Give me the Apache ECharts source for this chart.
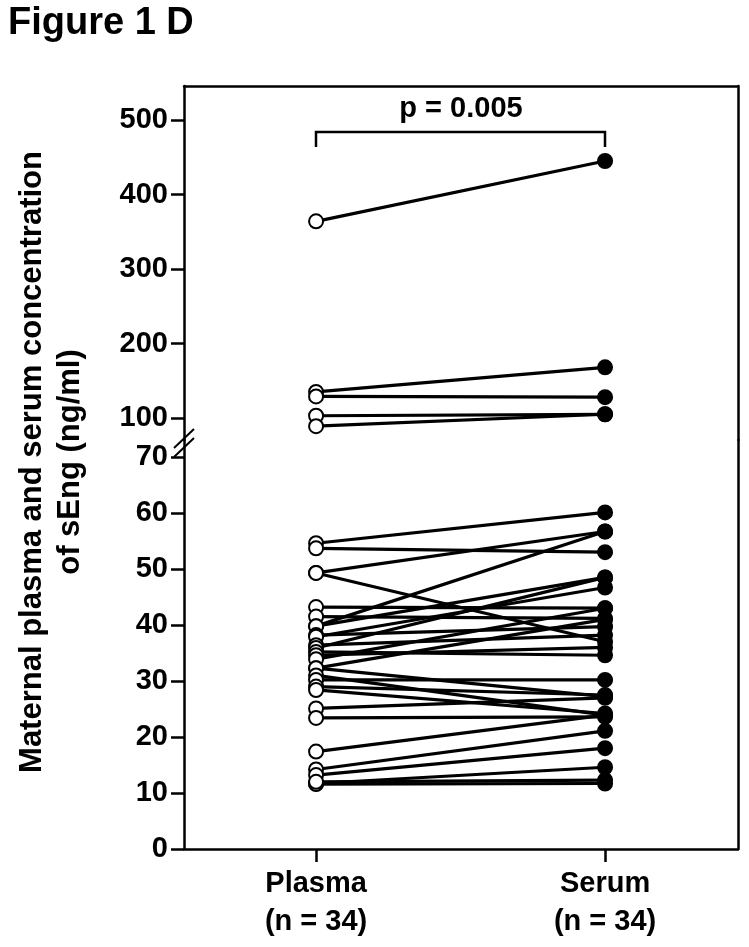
<!DOCTYPE html>
<html>
<head>
<meta charset="utf-8">
<script src="https://cdn.jsdelivr.net/npm/echarts@6/dist/echarts.min.js"></script>
<style>
  html, body { margin: 0; padding: 0; background: #fff; }
  #chart { width: 749px; height: 947px; }
</style>
</head>
<body>
<div id="chart"></div>
<script>
// paired samples, plasma -> serum (ng/ml)
const plasmaUpper = [364, 135, 129, 103, 89];
const serumUpper = [445, 168, 128, 105, 105];
const plasmaLower = [54.6, 53.7, 49.3, 49.3, 43.2, 41.5, 39.8, 39.8, 38.2, 37.9, 36.4, 35.9, 35.2, 34.6, 33.9,
  32.3, 32.3, 31.0, 30.2, 29.0, 28.4, 25.1, 23.4, 17.4, 14.2, 13.2, 11.7, 11.6, 12.0];
const serumLower = [60.1, 53.0, 56.7, 37.0, 43.0, 41.2, 56.7, 48.5, 39.7, 46.7, 38.2, 48.5, 34.6, 36.0, 43.0,
  41.0, 27.2, 23.9, 30.2, 27.5, 24.2, 27.0, 23.6, 23.9, 21.1, 18.0, 14.6, 11.7, 12.3];
const groupLabels = ["Plasma\n(n = 34)", "Serum\n(n = 34)"];
const upperTicks = [100, 200, 300, 400, 500];
const lowerTicks = [0, 10, 20, 30, 40, 50, 60, 70];

const chart = echarts.init(document.getElementById("chart"));
const font = "Liberation Sans, Arial, sans-serif";

function pairLines(plasma, serum, idx) {
  return plasma.map((p, i) => ({
    type: "line",
    xAxisIndex: idx,
    yAxisIndex: idx * 2,
    data: [[0, p], [1, serum[i]]],
    symbol: "none",
    lineStyle: { color: "#000", width: 3.2 },
    z: 2,
    silent: true
  }));
}

function dots(values, x, idx, fill) {
  return {
    type: "scatter",
    xAxisIndex: idx,
    yAxisIndex: idx * 2,
    data: values.map(v => [x, v]),
    symbol: "circle",
    symbolSize: 14,
    itemStyle: { color: fill, borderColor: "#000", borderWidth: 2, opacity: 1 },
    z: 3
  };
}

const xBase = {
  type: "value",
  min: -0.457,
  max: 1.46,
  splitLine: { show: false },
  axisLine: { onZero: false, lineStyle: { color: "#000", width: 2.5 } }
};

const yLeft = (min, max, ticks, gi) => ({
  type: "value",
  gridIndex: gi,
  min: min,
  max: max,
  position: "left",
  splitLine: { show: false },
  axisLine: { show: true, onZero: false, lineStyle: { color: "#000", width: 2.5 } },
  axisTick: { show: true, customValues: ticks, length: 13, lineStyle: { color: "#000", width: 2.5 } },
  axisLabel: { customValues: ticks, color: "#000", fontSize: 29, fontWeight: "bold", fontFamily: font, margin: 16 }
});

const yRight = (min, max, gi) => ({
  type: "value",
  gridIndex: gi,
  min: min,
  max: max,
  position: "right",
  splitLine: { show: false },
  axisLine: { show: true, onZero: false, lineStyle: { color: "#000", width: 2.5 } },
  axisTick: { show: false },
  axisLabel: { show: false }
});

chart.setOption({
  backgroundColor: "#fff",
  animation: false,
  grid: [
    { left: 184, right: 11, top: 86, height: 354 },
    { left: 184, right: 11, top: 440, height: 409 }
  ],
  xAxis: [
    Object.assign({}, xBase, {
      gridIndex: 0,
      position: "top",
      axisTick: { show: false },
      axisLabel: { show: false }
    }),
    Object.assign({}, xBase, {
      gridIndex: 1,
      position: "bottom",
      axisTick: { show: true, customValues: [0, 1], length: 13, lineStyle: { color: "#000", width: 2.5 } },
      axisLabel: {
        customValues: [0, 1],
        formatter: v => groupLabels[Math.round(v)],
        color: "#000",
        fontSize: 29,
        fontWeight: "bold",
        fontFamily: font,
        lineHeight: 38,
        margin: 16
      }
    })
  ],
  yAxis: [
    yLeft(70.47, 545.64, upperTicks, 0),
    yRight(70.47, 545.64, 0),
    yLeft(0, 73.04, lowerTicks, 1),
    yRight(0, 73.04, 1)
  ],
  series: [
    ...pairLines(plasmaUpper, serumUpper, 0),
    ...pairLines(plasmaLower, serumLower, 1),
    dots(plasmaUpper, 0, 0, "#fff"),
    dots(serumUpper, 1, 0, "#000"),
    dots(plasmaLower, 0, 1, "#fff"),
    dots(serumLower, 1, 1, "#000")
  ],
  graphic: [
    {
      type: "text",
      left: 8,
      top: 5,
      style: { text: "Figure 1 D", fill: "#000", font: "bold 38px " + font }
    },
    {
      type: "text",
      x: 51,
      y: 462,
      rotation: Math.PI / 2,
      style: {
        text: "Maternal plasma and serum concentration\nof sEng (ng/ml)",
        fill: "#000",
        font: "bold 31px " + font,
        align: "center",
        verticalAlign: "middle",
        lineHeight: 38
      }
    },
    {
      type: "text",
      x: 461,
      y: 109,
      style: { text: "p = 0.005", fill: "#000", font: "bold 29px " + font, align: "center", verticalAlign: "middle" }
    },
    {
      type: "polyline",
      shape: { points: [[316, 147], [316, 132], [605, 132], [605, 147]] },
      style: { stroke: "#000", lineWidth: 2.5, fill: null }
    },
    // axis break marks
    {
      type: "line",
      shape: { x1: 174, y1: 457, x2: 194, y2: 438 },
      style: { stroke: "#000", lineWidth: 2 }
    },
    {
      type: "line",
      shape: { x1: 174, y1: 448, x2: 194, y2: 429 },
      style: { stroke: "#000", lineWidth: 2 }
    }
  ]
});
</script>
</body>
</html>
